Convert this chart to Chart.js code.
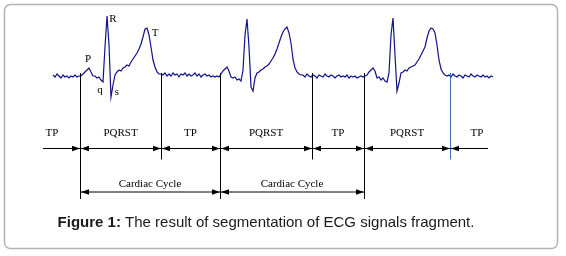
<!DOCTYPE html>
<html>
<head>
<meta charset="utf-8">
<script src="https://cdn.jsdelivr.net/npm/chart.js@4.4.0/dist/chart.umd.min.js"></script>
<style>
  html, body { margin: 0; padding: 0; background: #fff; }
  canvas { display: block; }
</style>
</head>
<body>
<canvas id="ecgChart" width="566" height="256"></canvas>
<script>
// ECG trace: one value every 2 time units starting at t = 53, baseline = 0
const ecgStart = 53;
const ecgStep = 2;
const ecgValues = [
  // 53..79 baseline
  0, -2, 1, -1, -3, 0, -2, -1, -3, -1, -2, 0, -2, -1,
  // 81..161 first beat
  -1, 1, 3, 5, 7, 3, -1, -1, -3, -2,
  -5, -7, 28, 59, 30, -22, -10, 0, 3, 5,
  4, 7, 8, 10, 9, 13, 16, 19, 22, 26,
  31, 38, 46, 47, 40, 28, 15, 8, 3, 1,
  1,
  // 163..219 baseline
  0, 2, -1, 1, -1, 2, 0, 1, -2, 1,
  0, 2, -1, 1, -1, 0, 2, -1, 1, -2,
  0, 1, -1, 0, -2, -1, -2, -1, -2,
  // 221..301 second beat
  1, 4, 6, 8, 4, -2, -3, -2, -5, -4,
  -6, 5, 40, 56, 28, -12, -16, -3, 2, 3,
  5, 6, 8, 9, 11, 14, 17, 21, 26, 32,
  38, 43, 46, 48, 42, 32, 16, 7, 3, 1,
  0,
  // 303..363 baseline
  0, -2, 1, -1, -2, 0, -1, -3, 0, -1,
  -2, 1, -1, -2, 0, -1, -3, -1, 0, -2,
  -1, -2, 0, -3, -1, -2, -1, -3, -2, -1,
  -2,
  // 365..445 third beat
  -1, 0, 3, 5, 7, 4, -3, -2, -5, -3,
  -6, -7, 2, 40, 57, 20, -16, -8, 2, 3,
  5, 4, 7, 8, 9, 10, 13, 16, 20, 24,
  28, 37, 44, 47, 46, 42, 30, 15, 6, 2,
  0,
  // 447..493 baseline
  -1, 0, -2, 1, -1, -2, 0, -1, -3, 0,
  -1, -2, 1, -1, -2, 0, -1, -2, 0, -2,
  -1, -3, -1, -2
];

// segmentation on the same time axis
const phaseBounds = [24, 80, 161, 220, 312, 364, 450, 504];
const phaseLabels = ['TP', 'PQRST', 'TP', 'PQRST', 'TP', 'PQRST', 'TP'];
const cycleBounds = [80, 220, 364];
const cycleLabels = ['Cardiac Cycle', 'Cardiac Cycle'];

// wave names written next to the first beat
const waveNames = ['P', 'q', 'R', 's', 'T'];
const waveTimes = [88, 100, 113, 117, 155];
const waveLevels = [16, -15, 56, -17, 42];

const captionBold = 'Figure 1:';
const captionText = ' The result of segmentation of ECG signals fragment.';

const ecgPoints = ecgValues.map((v, i) => ({ x: ecgStart + i * ecgStep, y: v }));

function arrowHead(ctx, x, y, dir) {
  ctx.beginPath();
  ctx.moveTo(x, y);
  ctx.lineTo(x - dir * 8, y - 2.8);
  ctx.lineTo(x - dir * 8, y + 2.8);
  ctx.closePath();
  ctx.fill();
}

const overlay = {
  id: 'overlay',
  afterDatasetsDraw(chart) {
    const ctx = chart.ctx;
    const px = t => chart.scales.x.getPixelForValue(t);
    const py = v => chart.scales.y.getPixelForValue(v);
    const top = py(2);
    const row1 = 148, row2 = 191.5;
    const left = 43, right = 488;
    ctx.save();

    // frame
    ctx.strokeStyle = '#b3b3b3';
    ctx.lineWidth = 1.5;
    ctx.beginPath();
    ctx.roundRect(4.5, 4.5, 553, 244, 6);
    ctx.stroke();

    // boundary lines
    ctx.lineWidth = 1;
    for (let i = 1; i < phaseBounds.length - 1; i++) {
      const x = Math.round(px(phaseBounds[i])) + 0.5;
      const long = cycleBounds.includes(phaseBounds[i]);
      ctx.strokeStyle = i === phaseBounds.length - 2 ? '#3d72c8' : '#000';
      ctx.beginPath();
      ctx.moveTo(x, top);
      ctx.lineTo(x, long ? 199 : 159.5);
      ctx.stroke();
    }

    // phase arrows and labels
    ctx.strokeStyle = '#000';
    ctx.fillStyle = '#000';
    ctx.font = '11px "Liberation Serif"';
    ctx.textAlign = 'center';
    ctx.textBaseline = 'alphabetic';
    const last = phaseLabels.length - 1;
    phaseLabels.forEach((lab, i) => {
      const a = px(phaseBounds[i]), b = px(phaseBounds[i + 1]);
      ctx.beginPath();
      ctx.moveTo(Math.max(a, left), row1 + 0.5);
      ctx.lineTo(Math.min(b, right), row1 + 0.5);
      ctx.stroke();
      if (i > 0) arrowHead(ctx, a + 1, row1 + 0.5, -1);
      if (i < last) arrowHead(ctx, b, row1 + 0.5, 1);
      ctx.fillText(lab, (a + b) / 2, 135.5);
    });

    // cardiac cycle arrows
    cycleLabels.forEach((lab, i) => {
      const a = px(cycleBounds[i]), b = px(cycleBounds[i + 1]);
      ctx.beginPath();
      ctx.moveTo(a, row2 + 0.5);
      ctx.lineTo(b, row2 + 0.5);
      ctx.stroke();
      arrowHead(ctx, a + 1, row2 + 0.5, -1);
      arrowHead(ctx, b, row2 + 0.5, 1);
      ctx.fillText(lab, (a + b) / 2, 187);
    });

    // wave names
    ctx.textBaseline = 'middle';
    waveNames.forEach((n, i) => {
      ctx.fillText(n, px(waveTimes[i]), py(waveLevels[i]));
    });

    // caption
    ctx.textAlign = 'left';
    ctx.textBaseline = 'alphabetic';
    ctx.fillStyle = '#1a1a1a';
    ctx.font = 'bold 15px "Liberation Sans"';
    const wb = ctx.measureText(captionBold).width;
    ctx.font = '15px "Liberation Sans"';
    const wt = ctx.measureText(captionText).width;
    const x0 = 266 - (wb + wt) / 2;
    ctx.font = 'bold 15px "Liberation Sans"';
    ctx.fillText(captionBold, x0, 226.5);
    ctx.font = '15px "Liberation Sans"';
    ctx.fillText(captionText, x0 + wb, 226.5);
    ctx.restore();
  }
};

window.onload = function () {
  const ctx = document.getElementById('ecgChart').getContext('2d');
  window.ecgChart = new Chart(ctx, {
    type: 'line',
    data: {
      datasets: [{
        data: ecgPoints,
        borderColor: '#12128a',
        borderWidth: 1.2,
        pointRadius: 0,
        tension: 0,
        fill: false
      }]
    },
    options: {
      responsive: false,
      animation: false,
      layout: { padding: 0 },
      scales: {
        x: { type: 'linear', min: 0, max: 566, display: false },
        y: { type: 'linear', min: -181, max: 75, display: false }
      },
      plugins: { legend: { display: false }, tooltip: { enabled: false } }
    },
    plugins: [overlay]
  });
};
</script>
</body>
</html>
